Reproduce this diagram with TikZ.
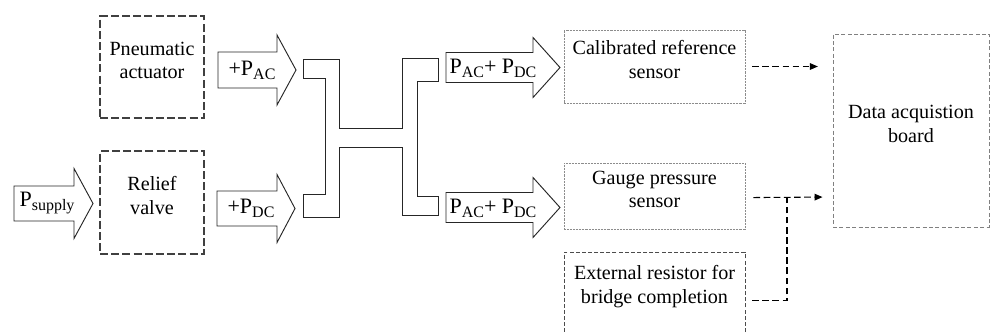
\documentclass[tikz,border=0pt]{standalone}
\usepackage{fontspec}
\setmainfont{Liberation Serif}
\newfontfamily\tnr{Liberation Serif}
\usetikzlibrary{fit,arrows.meta,calc}
\newcommand\lsub[1]{\raisebox{-0.4ex}{\fontsize{12}{12}\selectfont #1}}
% block arrow: x0, xhead, xtip, ycenter, body half, head half
\newcommand\blockarr[6]{%
  \draw[barrow] ({#1},{#4-#5}) -- ({#2},{#4-#5}) -- ({#2},{#4-#6}) -- ({#3},{#4})
    -- ({#2},{#4+#6}) -- ({#2},{#4+#5}) -- ({#1},{#4+#5}) -- cycle;}
\tikzset{
  boxfont/.style={font=\tnr\fontsize{15.1}{17.5}\selectfont},
  barrow/.style={draw=black!85, line width=0.7pt, line join=miter, fill=white},
  bigdash/.style={draw=black!75, line width=1pt, dash pattern=on 6pt off 2.4pt, inner sep=0pt,
     align=center, boxfont},
  dotbox/.style={draw=black!45, line width=0.7pt, dash pattern=on 0.6pt off 0.5pt, inner sep=0pt,
     align=center, boxfont},
  smalldash/.style={draw=black!70, line width=0.75pt, dash pattern=on 3pt off 1.6pt, inner sep=0pt,
     align=center, boxfont},
  greydash/.style={draw=black!50, line width=0.7pt, dash pattern=on 3pt off 1.8pt, inner sep=0pt,
     align=center, boxfont},
  conn/.style={draw=black, line width=0.8pt, dash pattern=on 5pt off 2.6pt,
     -{Triangle[length=6pt,width=5pt]}},
  conntail/.style={draw=black, line width=0.8pt, dash pattern=on 5pt off 2.6pt},
  lab/.style={inner sep=0pt, font=\tnr\fontsize{16.5}{18}\selectfont},
}
\begin{document}
\begin{tikzpicture}[x=0.75pt,y=-0.75pt]
\clip (0,0) rectangle (990,333);
\fill[white] (0,0) rectangle (990,333);

% boxes
\node[bigdash, fit={(100,16)(204,118)}] (pa) {Pneumatic\\actuator};
\node[bigdash, fit={(100,151)(204,254)}] (rv) {Relief\\valve};
\node[dotbox, fit={(564,30)(745,103)}] (cal) {Calibrated reference\\sensor};
\node[dotbox, fit={(564,163)(745,229)}] (gauge) {Gauge pressure\\sensor};
\node[smalldash, fit={(564,252)(745,335)}] (ext) {External resistor for\\bridge completion};
\node[greydash, fit={(833,34)(989,227)}] (daq) {Data acquistion\\board};

% block arrows
\blockarr{14}{74}{93}{203.5}{17.5}{35}
\node[lab] (lsup) at (47,203) {P\lsub{supply}};
\blockarr{218}{277}{296}{70}{18}{35}
\node[lab] (lac) at (252,70) {+P\lsub{AC}};
\blockarr{217}{277}{295}{208.5}{17.5}{34}
\node[lab] (ldc) at (251,208) {+P\lsub{DC}};
\blockarr{446}{533}{560}{67.5}{15}{30}
\node[lab] (ltop) at (493,68) {P\lsub{AC}+ P\lsub{DC}};
\blockarr{446}{533}{560}{207.5}{15}{30}
\node[lab] (lbot) at (493,208) {P\lsub{AC}+ P\lsub{DC}};

% H-shaped manifold
\draw[barrow] (303,59) -- (339,59) -- (339,128) -- (402,128) -- (402,58) -- (438,58)
  -- (438,81) -- (417,81) -- (417,196) -- (438,196) -- (438,215) -- (402,215)
  -- (402,147) -- (339,147) -- (339,217) -- (303,217) -- (303,194) -- (325,194)
  -- (325,78) -- (303,78) -- cycle;

% connectors
\coordinate (j) at (787,197);
\draw[conn, shorten <=5pt, shorten >=11pt] (cal.east) -- (daq.west |- cal.east);
\draw[conn, shorten <=6pt, shorten >=7.5pt] ([yshift=-1.2pt]gauge.east) -- (daq.west |- j);
\draw[conntail, shorten <=5pt] ([yshift=-4.9pt]ext.east) -| (j);
\end{tikzpicture}
\end{document}
